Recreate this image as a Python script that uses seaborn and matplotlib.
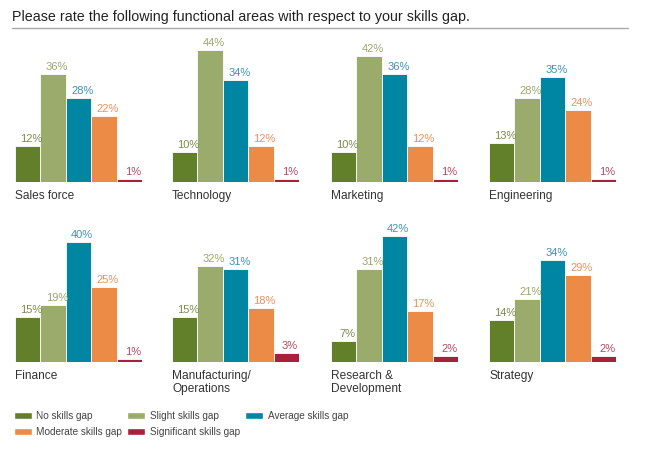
import pandas as pd
import matplotlib
matplotlib.use('Agg')
import matplotlib.pyplot as plt
from matplotlib.patches import Patch
from matplotlib.lines import Line2D
import seaborn as sns

# Chart data
areas = ['Sales force', 'Technology', 'Marketing', 'Engineering',
         'Finance', 'Manufacturing/\nOperations', 'Research &\nDevelopment', 'Strategy']
gaps = ['No skills gap', 'Slight skills gap', 'Average skills gap',
        'Moderate skills gap', 'Significant skills gap']
no_gap = [12, 10, 10, 13, 15, 15, 7, 14]
slight_gap = [36, 44, 42, 28, 19, 32, 31, 21]
average_gap = [28, 34, 36, 35, 40, 31, 42, 34]
moderate_gap = [22, 12, 12, 24, 25, 18, 17, 29]
significant_gap = [1, 1, 1, 1, 1, 3, 2, 2]

colors = ['#62802a', '#9aab6c', '#0086a3', '#ec8b45', '#a8203a']
label_colors = ['#7a8c4c', '#9aa86a', '#3a95b5', '#ef8f5c', '#b4495f']

# long-form table for seaborn
rows = []
for i, area in enumerate(areas):
    for gap, vals in zip(gaps, [no_gap, slight_gap, average_gap, moderate_gap, significant_gap]):
        rows.append({'area': area, 'gap': gap, 'value': vals[i]})
df = pd.DataFrame(rows)

sns.set_style('white')
plt.rcParams['font.family'] = ['Liberation Sans', 'DejaVu Sans']

W, H = 650, 468
fig = plt.figure(figsize=(6.5, 4.68), dpi=100)

# title + rule
fig.text(12 / W, 1 - 17 / H, 'Please rate the following functional areas with respect to your skills gap.',
         fontsize=10.3, color='#222222', va='center', ha='left')
fig.add_artist(Line2D([12 / W, 628 / W], [1 - 28 / H, 1 - 28 / H], color='#aaaaaa', lw=1))

lefts = [15, 172, 331, 489]
baselines = [182, 362]
ymax = 45
for i, area in enumerate(areas):
    r, c = divmod(i, 4)
    base = baselines[r]
    ax = fig.add_axes([lefts[c] / W, 1 - base / H, 127 / W, ymax * 3 / H])
    sub = df[df['area'] == area]
    sns.barplot(data=sub, x='gap', y='value', hue='gap', palette=colors, order=gaps,
                hue_order=gaps, width=1, saturation=1, edgecolor='white', linewidth=0.6,
                legend=False, ax=ax)
    ax.set_xlim(-0.5, 4.5)
    ax.set_ylim(0, ymax)
    ax.axis('off')
    for j, v in enumerate(sub['value']):
        ax.text(j + 0.15, v + 0.6, f'{v}%', ha='center', va='bottom', fontsize=8,
                color=label_colors[j])
    ax.text(0, -0.06, area, transform=ax.transAxes, ha='left', va='top',
            fontsize=8.6, color='#333333', linespacing=1.15)

# legend
handles = [Patch(facecolor=col, label=g) for col, g in zip(colors, gaps)]
order = [0, 3, 1, 4, 2]
fig.legend([handles[k] for k in order], [gaps[k] for k in order], ncol=3,
           loc='upper left', bbox_to_anchor=(5 / W, 1 - 402 / H), frameon=False,
           fontsize=7.2, handlelength=1.8, handleheight=0.6, handletextpad=0.45,
           columnspacing=0.5, labelspacing=0.6, labelcolor='#444444')

fig.savefig('out.png', dpi=100)
